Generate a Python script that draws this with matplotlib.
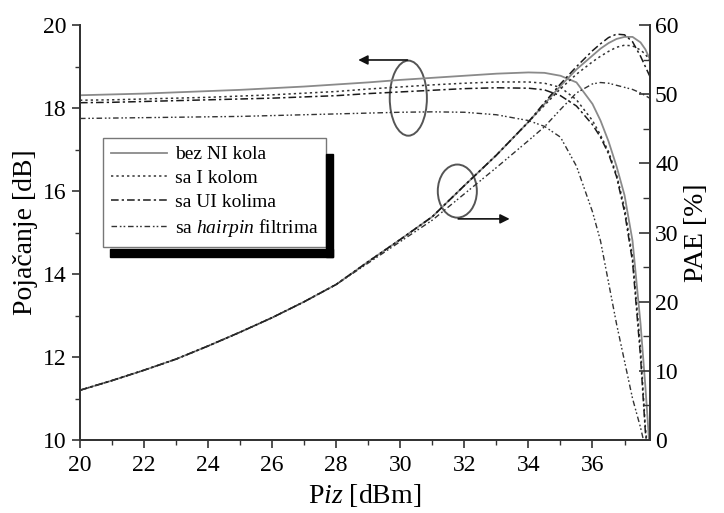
import numpy as np
import matplotlib
matplotlib.use("Agg")
import matplotlib.pyplot as plt
from matplotlib.patches import Ellipse, Rectangle
from matplotlib.lines import Line2D

plt.rcParams['font.family'] = ['Liberation Serif', 'DejaVu Serif']
plt.rcParams['mathtext.fontset'] = 'custom'
plt.rcParams['mathtext.rm'] = 'Liberation Serif'
plt.rcParams['mathtext.it'] = 'Liberation Serif:italic'

### data
pin = [20, 21, 22, 23, 24, 25, 26, 27, 28, 29, 30, 31, 32, 33, 34, 34.5, 35, 35.5,
       36, 36.25, 36.5, 36.75, 37, 37.25, 37.5, 37.65, 37.8]

gain_bez = [18.31, 18.33, 18.35, 18.38, 18.41, 18.44, 18.48, 18.52, 18.57, 18.62, 18.68, 18.73,
            18.78, 18.83, 18.86, 18.85, 18.78, 18.62, 18.1, 17.7, 17.2, 16.6, 15.9, 14.8, 12.8, 11.3, 9.6]
gain_i = [18.19, 18.2, 18.22, 18.24, 18.26, 18.29, 18.32, 18.36, 18.4, 18.46, 18.51, 18.56,
          18.6, 18.63, 18.63, 18.6, 18.5, 18.2, 17.7, 17.35, 16.95, 16.4, 15.6, 14.4, 12.2, 10.3, 9.2]
gain_ui = [18.13, 18.14, 18.16, 18.18, 18.2, 18.22, 18.24, 18.27, 18.3, 18.35, 18.39, 18.43,
           18.47, 18.49, 18.48, 18.44, 18.3, 18.05, 17.6, 17.3, 16.9, 16.35, 15.5, 14.3, 12.0, 10.2, 9.2]
gain_hp = [17.75, 17.76, 17.77, 17.78, 17.79, 17.8, 17.82, 17.84, 17.86, 17.88, 17.9, 17.91,
           17.9, 17.84, 17.7, 17.56, 17.3, 16.6, 15.5, 14.8, 13.8, 12.8, 11.9, 11.0, 10.3, 9.8, 9.3]

pae_bez = [7.2, 8.6, 10.1, 11.7, 13.6, 15.6, 17.7, 20.0, 22.5, 25.8, 29.0, 32.3, 36.8, 41.2,
           46.0, 48.6, 51.2, 53.6, 55.6, 56.6, 57.4, 58.0, 58.3, 58.3, 57.5, 56.5, 55.0]
pae_i = [7.2, 8.6, 10.1, 11.7, 13.6, 15.6, 17.7, 20.0, 22.5, 25.8, 29.0, 32.3, 36.8, 41.2,
         46.0, 48.4, 50.8, 52.9, 54.7, 55.5, 56.2, 56.8, 57.1, 57.0, 56.4, 55.8, 54.8]
pae_ui = [7.2, 8.6, 10.1, 11.7, 13.6, 15.6, 17.7, 20.0, 22.5, 25.8, 29.0, 32.3, 36.8, 41.2,
          46.0, 48.8, 51.5, 54.0, 56.3, 57.3, 58.2, 58.7, 58.6, 57.6, 55.5, 54.0, 52.5]
pae_hp = [7.2, 8.6, 10.1, 11.7, 13.6, 15.6, 17.7, 20.0, 22.5, 25.6, 28.7, 31.8, 35.6, 39.4,
          43.3, 45.3, 47.8, 50.2, 51.5, 51.7, 51.6, 51.3, 51.0, 50.7, 50.2, 49.8, 49.4]

labels = ['bez NI kola', 'sa I kolom', 'sa UI kolima', 'sa $\\it{hairpin}$ filtrima']
styles = [dict(color='#8a8a8a', ls='-', lw=1.3),
          dict(color='#333333', ls=(0, (1.5, 2)), lw=1.1),
          dict(color='#1a1a1a', ls=(0, (5, 2, 1.5, 2)), lw=1.1),
          dict(color='#333333', ls=(0, (4, 2, 1.2, 1.5, 1.2, 2)), lw=1.0)]

fig = plt.figure(figsize=(7.24, 5.13), dpi=100)
ax = fig.add_axes([0.1105, 0.1423, 0.7875, 0.8087])
ax2 = ax.twinx()

for g, p, st in zip([gain_bez, gain_i, gain_ui, gain_hp], [pae_bez, pae_i, pae_ui, pae_hp], styles):
    ax.plot(pin, g, **st)
    ax2.plot(pin, p, **st)

ax.set_xlim(20, 37.8)
ax.set_ylim(10, 20)
ax2.set_ylim(0, 60)
ax.set_xticks(np.arange(20, 37, 2))
ax.set_xticks(np.arange(21, 38, 2), minor=True)
ax.set_yticks(np.arange(10, 21, 2))
ax.set_yticks(np.arange(11, 20, 2), minor=True)
ax2.set_yticks(np.arange(0, 61, 10))
ax2.set_yticks(np.arange(5, 60, 10), minor=True)

for a in (ax, ax2):
    a.spines['top'].set_visible(False)
    for s in a.spines.values():
        s.set_linewidth(1.3)
        s.set_color('#333333')
ax.tick_params(which='major', direction='out', length=6, width=1.2, labelsize=17, color='#333333')
ax.tick_params(axis='x', which='major', pad=5)
ax.tick_params(which='minor', direction='out', length=3.5, width=1.0, color='#333333')
ax2.tick_params(which='major', direction='in', length=8, width=1.2, labelsize=17, color='#333333')
ax2.tick_params(which='minor', direction='in', length=5, width=1.0, color='#333333')

ax.set_xlabel('P$\\it{iz}$ [dBm]', fontsize=20, labelpad=4)
ax.set_ylabel('Pojačanje [dB]', fontsize=20, labelpad=4)
ax2.set_ylabel('PAE [%]', fontsize=20, labelpad=4)

# ellipses with arrows
ax.add_patch(Ellipse((30.25, 18.24), 1.16, 1.81, fill=False, ec='#555555', lw=1.4))
ax.annotate('', xy=(28.6, 19.16), xytext=(30.31, 19.16),
            arrowprops=dict(arrowstyle='-|>', color='#111111', lw=1.2, mutation_scale=14))
ax.add_patch(Ellipse((31.78, 16.0), 1.22, 1.28, fill=False, ec='#555555', lw=1.4))
ax.annotate('', xy=(33.5, 15.33), xytext=(31.72, 15.33),
            arrowprops=dict(arrowstyle='-|>', color='#111111', lw=1.2, mutation_scale=14))

# legend with black shadow
W, H = 724.0, 513.0
handles = [Line2D([], [], **st) for st in styles]
leg = ax2.legend(handles, labels, loc='upper left', bbox_to_anchor=(103 / W, 1 - 138 / H),
                 bbox_transform=fig.transFigure, fontsize=14, frameon=True, fancybox=False,
                 handlelength=2.9, handletextpad=0.4, labelspacing=0.32, borderpad=0.4,
                 borderaxespad=0)
leg.get_frame().set_edgecolor('#555555')
leg.get_frame().set_linewidth(1.0)

fig.canvas.draw()
bb = leg.get_window_extent()
x0, y0, x1, y1 = bb.x0 / W, bb.y0 / H, bb.x1 / W, bb.y1 / H
dx, dy = 7 / W, 8 / H
gap = 2 / H
fig.patches.append(Rectangle((x1, y0 - dy - gap), dx, y1 - y0 - dy + gap,
                             transform=fig.transFigure, color='black', zorder=5))
fig.patches.append(Rectangle((x0 + dx, y0 - dy - gap), x1 - x0, dy, transform=fig.transFigure,
                             color='black', zorder=5))

fig.savefig('out.png', dpi=100)
